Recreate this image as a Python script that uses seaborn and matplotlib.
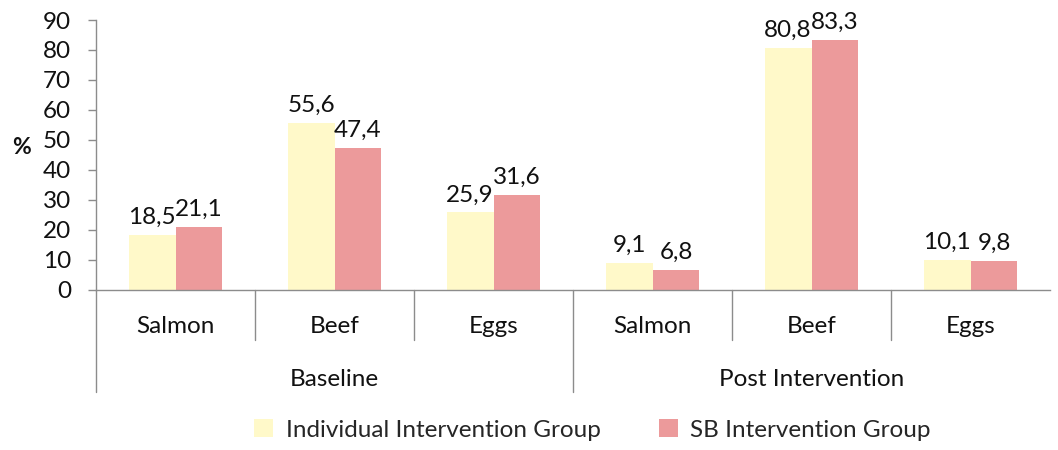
import matplotlib
matplotlib.use("Agg")
import matplotlib.pyplot as plt
import matplotlib.transforms as mtransforms
from matplotlib.patches import Patch
import seaborn as sns
import pandas as pd

periods = ["Baseline", "Post Intervention"]
foods = ["Salmon", "Beef", "Eggs"]
series_names = ["Individual Intervention Group", "SB Intervention Group"]
individual = [18.5, 55.6, 25.9, 9.1, 80.8, 10.1]
sb_group = [21.1, 47.4, 31.6, 6.8, 83.3, 9.8]
y_ticks = [0, 10, 20, 30, 40, 50, 60, 70, 80, 90]

colors = ["#FFF9C9", "#EC9A9B"]

slots = [f"{p}|{f}" for p in periods for f in foods]
rows = []
for s, v in zip(slots, individual):
    rows.append({"slot": s, "series": series_names[0], "value": v})
for s, v in zip(slots, sb_group):
    rows.append({"slot": s, "series": series_names[1], "value": v})
df = pd.DataFrame(rows)

sns.set_theme(style="white")
plt.rcParams["font.family"] = ["Lato", "DejaVu Sans"]

FS = 17.5
fig = plt.figure(figsize=(10.58, 4.5), dpi=100)
ax = fig.add_axes([96/1058, 160/450, 954/1058, 270/450])

sns.barplot(data=df, x="slot", y="value", hue="series", order=slots,
            hue_order=series_names, palette=colors, width=0.59, gap=0,
            saturation=1, ax=ax, legend=False, edgecolor="none")

for cont in ax.containers:
    labels = [f"{b.get_height():.1f}".replace(".", ",") for b in cont]
    ax.bar_label(cont, labels=labels, padding=5, fontsize=FS, color="#111111")

ax.set_ylim(0, 90)
ax.set_xlim(-0.5, len(slots) - 0.5)
ax.set_yticks(y_ticks)
ax.set_yticklabels([str(t) for t in y_ticks], fontsize=FS, color="#111111")
ax.tick_params(axis="y", left=True, length=6, width=1, color="#8c8c8c", pad=12)
ax.tick_params(axis="x", bottom=False, labelbottom=False)
ax.set_xlabel("")
ax.set_ylabel("%", fontsize=FS - 1, fontweight="bold", rotation=0, labelpad=0, color="#111111")
ax.yaxis.set_label_coords(-0.078, 0.49)

for side in ["top", "right"]:
    ax.spines[side].set_visible(False)
for side in ["left", "bottom"]:
    ax.spines[side].set_color("#8c8c8c")
    ax.spines[side].set_linewidth(1)

trans = mtransforms.blended_transform_factory(ax.transData, ax.transAxes)
n_f = len(foods)
for i, s in enumerate(slots):
    ax.text(i, -0.135, s.split("|")[1], transform=trans, ha="center", va="center",
            fontsize=FS, color="#111111")
for i in range(len(slots)):
    x = i - 0.5
    if i % n_f == 0:
        ax.plot([x, x], [0, -0.378], transform=trans, color="#8c8c8c", lw=1, clip_on=False)
    else:
        ax.plot([x, x], [0, -0.185], transform=trans, color="#8c8c8c", lw=1, clip_on=False)
for j, p in enumerate(periods):
    cx = j * n_f + (n_f - 1) / 2
    ax.text(cx, -0.33, p, transform=trans, ha="center", va="center",
            fontsize=FS, color="#111111")

handles = [Patch(facecolor=c, edgecolor="none") for c in colors]
fig.legend(handles, series_names, loc="center", bbox_to_anchor=(0.56, 0.045),
           ncol=2, frameon=False, fontsize=FS, handlelength=0.8, handleheight=0.8,
           columnspacing=2.4, handletextpad=0.5)

fig.savefig("out.png", dpi=100)
